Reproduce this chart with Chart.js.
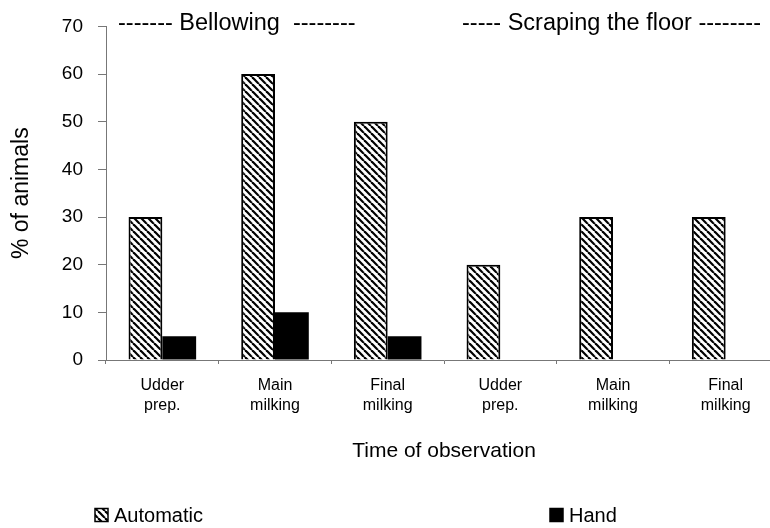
<!DOCTYPE html>
<html>
<head>
<meta charset="utf-8">
<script src="https://cdn.jsdelivr.net/npm/chart.js@4/dist/chart.umd.min.js"></script>
<style>
  html, body { margin: 0; padding: 0; background: #fff; overflow: hidden; }
  canvas { display: block; }
</style>
</head>
<body>
<canvas id="chartCanvas" width="785" height="528"></canvas>
<script>
"use strict";

const categories = [
  ["Udder", "prep."], ["Main", "milking"], ["Final", "milking"],
  ["Udder", "prep."], ["Main", "milking"], ["Final", "milking"]
];
const automaticValues = [30, 60, 50, 20, 30, 30];
const handValues = [5, 10, 5, 0, 0, 0];
const seriesNames = ["Automatic", "Hand"];
const groupTitles = ["------- Bellowing  --------", "----- Scraping the floor --------"];

const FONT = "'Liberation Sans', Arial, sans-serif";

function makeHatch() {
  const s = 7;
  const c = document.createElement("canvas");
  c.width = s;
  c.height = s;
  const g = c.getContext("2d");
  g.fillStyle = "#fff";
  g.fillRect(0, 0, s, s);
  g.strokeStyle = "#000";
  g.lineWidth = 2.2;
  for (let k = -1; k <= 1; k++) {
    g.beginPath();
    g.moveTo(k * s, 0);
    g.lineTo(k * s + s, s);
    g.stroke();
  }
  return g.createPattern(c, "repeat");
}

const hatch = makeHatch();

// group headings and the spread-out legend at the bottom
const extrasPlugin = {
  id: "extras",
  afterDraw(chart, args, opts) {
    const ctx = chart.ctx;
    ctx.save();
    ctx.fillStyle = "#000";
    ctx.textBaseline = "alphabetic";
    ctx.textAlign = "left";
    ctx.font = "23.5px " + FONT;
    groupTitles.forEach((t, i) => ctx.fillText(t, opts.titleX[i], opts.titleY));

    ctx.font = "20px " + FONT;
    ctx.textBaseline = "middle";
    chart.data.datasets.forEach((ds, i) => {
      const x = opts.legendX[i];
      const y = opts.legendY;
      ctx.fillStyle = ds.backgroundColor;
      ctx.fillRect(x, y - 6.5, 13, 13);
      ctx.strokeStyle = "#000";
      ctx.lineWidth = 1.5;
      ctx.strokeRect(x, y - 6.5, 13, 13);
      ctx.fillStyle = "#000";
      ctx.fillText(ds.label, x + 19, y + 1);
    });
    ctx.restore();
  }
};

new Chart(document.getElementById("chartCanvas").getContext("2d"), {
  type: "bar",
  data: {
    labels: categories,
    datasets: [
      {
        label: seriesNames[0],
        data: automaticValues,
        backgroundColor: hatch,
        borderColor: "#000",
        borderWidth: 2,
      },
      {
        label: seriesNames[1],
        data: handValues,
        backgroundColor: "#000",
        borderColor: "#000",
        borderWidth: 0,
      },
    ],
  },
  options: {
    responsive: false,
    animation: false,
    categoryPercentage: 0.6,
    barPercentage: 1.0,
    layout: { padding: { top: 25, right: 3, bottom: 40, left: 0 } },
    plugins: {
      legend: { display: false },
      tooltip: { enabled: false },
      extras: { titleX: [118, 462], titleY: 29.5, legendX: [95, 550], legendY: 515 },
    },
    scales: {
      x: {
        afterFit(scale) { scale.height = 128; },
        grid: { display: true, drawOnChartArea: false, drawTicks: true, tickLength: 4, color: "#777", offset: true },
        border: { display: true, color: "#777", dash: [4, 2], width: 1 },
        ticks: {
          color: "#000",
          padding: 12,
          maxRotation: 0,
          font: { family: FONT, size: 16, lineHeight: 1.25 },
        },
        title: {
          display: true,
          text: "Time of observation",
          color: "#000",
          padding: { top: 0, bottom: 24 },
          font: { family: FONT, size: 21 },
        },
      },
      y: {
        min: 0,
        max: 70,
        afterFit(scale) { scale.width = 106; },
        grid: { display: true, drawOnChartArea: false, drawTicks: true, tickLength: 8, color: "#777" },
        border: { display: true, color: "#777", dash: [4, 2], width: 1 },
        ticks: {
          stepSize: 10,
          color: "#000",
          padding: 15,
          font: { family: FONT, size: 19 },
        },
        title: {
          display: true,
          text: "% of animals",
          color: "#000",
          padding: { top: 8, bottom: 0 },
          font: { family: FONT, size: 23 },
        },
      },
    },
  },
  plugins: [extrasPlugin],
});
</script>
</body>
</html>
